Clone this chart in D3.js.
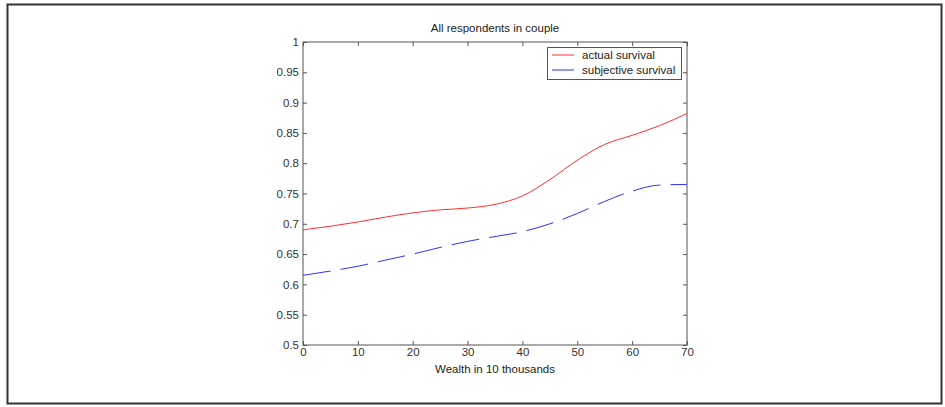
<!DOCTYPE html>
<html>
<head>
<meta charset="utf-8">
<script src="https://cdn.jsdelivr.net/npm/d3@7"></script>
<style>
  body { margin: 0; background: #fff; }
  svg { display: block; font-family: "Liberation Sans", Arial, sans-serif; }
</style>
</head>
<body>
<script>
// datos
const wealth = [0, 5, 10, 15, 20, 25, 30, 35, 40, 45, 50, 55, 60, 65, 70];
const actualSurvival = [0.690, 0.696, 0.703, 0.711, 0.718, 0.723, 0.726, 0.732, 0.746, 0.773, 0.805, 0.831, 0.846, 0.862, 0.882];
const subjectiveSurvival = [0.615, 0.622, 0.630, 0.640, 0.650, 0.661, 0.671, 0.679, 0.687, 0.700, 0.717, 0.737, 0.754, 0.764, 0.765];
const xTicks = [0, 10, 20, 30, 40, 50, 60, 70];
const yTicks = [0.5, 0.55, 0.6, 0.65, 0.7, 0.75, 0.8, 0.85, 0.9, 0.95, 1];
const seriesNames = ["actual survival", "subjective survival"];

var W = 945, H = 407;
var margin = {top: 42, left: 303};
var width = 384, height = 303;
var fontSize = "11.5px";

var svg = d3.select("body").append("svg")
    .attr("width", W)
    .attr("height", H);

// marco exterior
svg.append("rect")
    .attr("x", 7.5).attr("y", 4.5)
    .attr("width", 934).attr("height", 399)
    .attr("fill", "none")
    .attr("stroke", "#333")
    .attr("stroke-width", 2);

var g = svg.append("g")
    .attr("transform", `translate(${margin.left}, ${margin.top})`);

const x = d3.scaleLinear().domain([0, 70]).range([0, width]);
const y = d3.scaleLinear().domain([0.5, 1]).range([height, 0]);

// ejes (ticks hacia adentro, en los cuatro lados)
function styleAxis(sel) {
    sel.select(".domain").remove();
    sel.selectAll("line").attr("stroke", "#555");
    sel.selectAll("text")
        .style("font-size", fontSize)
        .attr("fill", "#333")
        .style("font-family", "'Liberation Sans', Arial, sans-serif");
}

g.append("g")
    .attr("transform", `translate(0, ${height})`)
    .call(d3.axisBottom(x).tickValues(xTicks).tickSizeInner(-4).tickSizeOuter(0).tickPadding(3))
    .call(styleAxis);

g.append("g")
    .call(d3.axisTop(x).tickValues(xTicks).tickSizeInner(-4).tickSizeOuter(0).tickFormat(""))
    .call(styleAxis);

g.append("g")
    .call(d3.axisLeft(y).tickValues(yTicks).tickSizeInner(-4).tickSizeOuter(0).tickPadding(4).tickFormat(d3.format("~g")))
    .call(styleAxis);

g.append("g")
    .attr("transform", `translate(${width}, 0)`)
    .call(d3.axisRight(y).tickValues(yTicks).tickSizeInner(-4).tickSizeOuter(0).tickFormat(""))
    .call(styleAxis);

// caja
g.append("rect")
    .attr("x", 0).attr("y", 0)
    .attr("width", width).attr("height", height)
    .attr("fill", "none")
    .attr("stroke", "#555")
    .attr("stroke-width", 1);

// lineas
const line = d3.line()
    .x(d => x(d[0]))
    .y(d => y(d[1]))
    .curve(d3.curveMonotoneX);

g.append("path")
    .datum(wealth.map((w, i) => [w, actualSurvival[i]]))
    .attr("d", line)
    .attr("fill", "none")
    .attr("stroke", "#ff3030")
    .attr("stroke-width", 1);

g.append("path")
    .datum(wealth.map((w, i) => [w, subjectiveSurvival[i]]))
    .attr("d", line)
    .attr("fill", "none")
    .attr("stroke", "#3030ff")
    .attr("stroke-width", 1)
    .attr("stroke-dasharray", "28,10");

// titulo y etiqueta del eje
svg.append("text")
    .attr("x", margin.left + width / 2)
    .attr("y", 32)
    .attr("text-anchor", "middle")
    .style("font-size", fontSize)
    .style("fill", "#222")
    .text("All respondents in couple");

svg.append("text")
    .attr("x", margin.left + width / 2)
    .attr("y", 373)
    .attr("text-anchor", "middle")
    .style("font-size", fontSize)
    .style("fill", "#222")
    .text("Wealth in 10 thousands");

// leyenda
const legend = svg.append("g")
    .attr("transform", "translate(547, 47)");

legend.append("rect")
    .attr("x", 0.5).attr("y", 0.5)
    .attr("width", 134).attr("height", 32)
    .attr("fill", "#fff")
    .attr("stroke", "#555");

const legendColors = ["#ff3030", "#3030ff"];
seriesNames.forEach((name, i) => {
    const row = legend.append("g")
        .attr("transform", `translate(0, ${8 + i * 15})`);
    row.append("line")
        .attr("x1", 5).attr("x2", 27)
        .attr("y1", 0).attr("y2", 0)
        .attr("stroke", legendColors[i]);
    row.append("text")
        .attr("x", 35)
        .attr("y", 4)
        .style("font-size", fontSize)
        .style("fill", "#222")
        .text(name);
});
</script>
</body>
</html>
